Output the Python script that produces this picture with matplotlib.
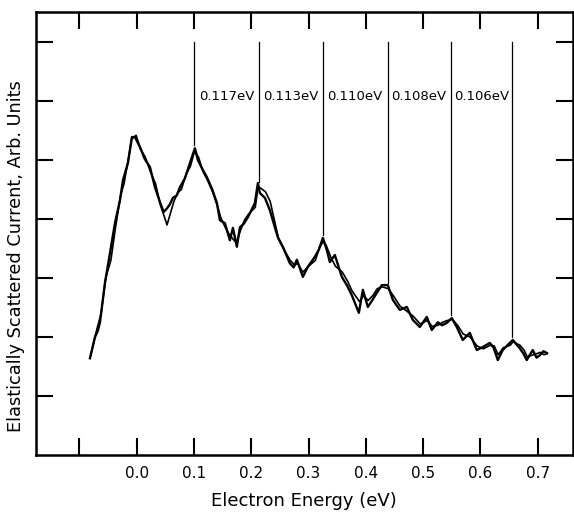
import matplotlib
matplotlib.use("Agg")
import matplotlib.pyplot as plt

# Trace A (electron energy in eV, scattered current in arb. units)
energy_a = [-0.0815, -0.0727, -0.068, -0.064, -0.0553, -0.0466, -0.0379, -0.0291, -0.0239,
            -0.0152, -0.0082, -0.003, 0.0058, 0.0140, 0.0232, 0.0319, 0.0406, 0.0470, 0.0529,
            0.0580, 0.0633, 0.0700, 0.0755, 0.0842, 0.093, 0.1017, 0.1069, 0.1140, 0.1226,
            0.1320, 0.1401, 0.1453, 0.154, 0.1627, 0.168, 0.1749, 0.1802, 0.1870, 0.1941,
            0.2063, 0.2116, 0.2151, 0.2238, 0.2325, 0.2412, 0.2465, 0.2552, 0.2674, 0.2740,
            0.2796, 0.2901, 0.2988, 0.3110, 0.3180, 0.3250, 0.332, 0.3372, 0.3459, 0.3581,
            0.3668, 0.3755, 0.3878, 0.3948, 0.4035, 0.4110, 0.4192, 0.4279, 0.4383, 0.4471,
            0.4593, 0.4715, 0.4820, 0.4942, 0.5064, 0.5151, 0.5256, 0.5330, 0.5413, 0.5500,
            0.5587, 0.5692, 0.5814, 0.5936, 0.6041, 0.6163, 0.6230, 0.6303, 0.6390, 0.6512,
            0.6565, 0.6686, 0.6750, 0.6808, 0.6913, 0.6980, 0.7035, 0.7100, 0.7157]
current_a = [1.64, 2.00, 2.10, 2.25, 2.92, 3.42, 3.93, 4.32, 4.66,
             4.95, 5.39, 5.39, 5.22, 5.02, 4.88, 4.54, 4.29, 4.12, 4.18,
             4.25, 4.36, 4.40, 4.54, 4.69, 4.95, 5.20, 5.00, 4.86, 4.71,
             4.50, 4.27, 3.98, 3.93, 3.64, 3.85, 3.53, 3.86, 3.92, 4.03,
             4.27, 4.61, 4.44, 4.36, 4.15, 3.86, 3.69, 3.53, 3.25, 3.18,
             3.31, 3.02, 3.19, 3.36, 3.48, 3.68, 3.47, 3.27, 3.39, 3.02,
             2.88, 2.71, 2.41, 2.80, 2.51, 2.62, 2.75, 2.88, 2.88, 2.63,
             2.46, 2.51, 2.29, 2.17, 2.34, 2.12, 2.25, 2.20, 2.24, 2.32,
             2.17, 1.95, 2.07, 1.78, 1.83, 1.90, 1.82, 1.61, 1.78, 1.90,
             1.95, 1.81, 1.72, 1.61, 1.78, 1.65, 1.69, 1.76, 1.73]

# Trace B (second sweep)
energy_b = [-0.0800, -0.0740, -0.0690, -0.0620, -0.0540, -0.0450, -0.0370, -0.0280, -0.0220,
            -0.0140, -0.0090, -0.0010, 0.0070, 0.0150, 0.0240, 0.0330, 0.0410, 0.0480, 0.0530,
            0.0590, 0.0650, 0.0720, 0.0780, 0.0860, 0.0940, 0.1010, 0.1080, 0.1160, 0.1240,
            0.1330, 0.1410, 0.1470, 0.1550, 0.1610, 0.1690, 0.1740, 0.1810, 0.1880, 0.1950,
            0.2070, 0.2120, 0.2170, 0.2250, 0.2330, 0.2400, 0.2480, 0.2560, 0.2680, 0.2760,
            0.2810, 0.2900, 0.3000, 0.3120, 0.3190, 0.3260, 0.3310, 0.3390, 0.3470, 0.3590,
            0.3680, 0.3760, 0.3890, 0.3960, 0.4040, 0.4120, 0.4200, 0.4290, 0.4390, 0.4480,
            0.4600, 0.4700, 0.4830, 0.4950, 0.5070, 0.5160, 0.5260, 0.5340, 0.5420, 0.5510,
            0.5600, 0.5700, 0.5820, 0.5940, 0.6050, 0.6170, 0.6240, 0.6310, 0.6400, 0.6520,
            0.6570, 0.6690, 0.6760, 0.6820, 0.6920, 0.6990, 0.7040, 0.7110, 0.7170]
current_b = [1.70, 1.95, 2.15, 2.40, 3.00, 3.30, 3.85, 4.40, 4.60,
             5.05, 5.35, 5.42, 5.18, 5.05, 4.80, 4.60, 4.25, 4.05, 3.90,
             4.10, 4.30, 4.45, 4.50, 4.75, 4.90, 5.15, 5.05, 4.80, 4.65,
             4.45, 4.22, 4.02, 3.85, 3.75, 3.65, 3.60, 3.80, 3.98, 4.08,
             4.20, 4.55, 4.52, 4.46, 4.30, 4.00, 3.65, 3.50, 3.30, 3.22,
             3.25, 3.10, 3.20, 3.30, 3.52, 3.62, 3.55, 3.35, 3.20, 3.10,
             2.95, 2.78, 2.60, 2.70, 2.62, 2.70, 2.82, 2.85, 2.82, 2.70,
             2.52, 2.45, 2.35, 2.22, 2.28, 2.18, 2.20, 2.25, 2.28, 2.30,
             2.20, 2.05, 2.00, 1.85, 1.80, 1.86, 1.85, 1.70, 1.82, 1.86,
             1.92, 1.86, 1.78, 1.66, 1.70, 1.72, 1.74, 1.70, 1.72]

# Vibrational level markers
marker_x = [0.100, 0.2135, 0.325, 0.438, 0.548, 0.655]
marker_bottom = [5.25, 4.63, 3.73, 2.92, 2.37, 2.00]
marker_top = 7.0
spacing_labels = ["0.117eV", "0.113eV", "0.110eV", "0.108eV", "0.106eV"]
label_y = 6.07

xtick_vals = [-0.1, 0.0, 0.1, 0.2, 0.3, 0.4, 0.5, 0.6, 0.7]
xtick_labels = ["", "0.0", "0.1", "0.2", "0.3", "0.4", "0.5", "0.6", "0.7"]
ytick_vals = [1, 2, 3, 4, 5, 6, 7]

fig = plt.figure(figsize=(5.74, 5.12), dpi=100)
ax = fig.add_axes([0.0627, 0.1113, 0.935, 0.8653])

ax.plot(energy_a, current_a, color="black", lw=1.7)
ax.plot(energy_b, current_b, color="black", lw=1.2)

for xm, yb in zip(marker_x, marker_bottom):
    ax.plot([xm, xm], [yb, marker_top], color="black", lw=0.9)

for i, lab in enumerate(spacing_labels):
    xc = (marker_x[i] + marker_x[i + 1]) / 2
    ax.text(xc, label_y, lab, ha="center", va="center", fontsize=9.5)

ax.set_xlim(-0.1757, 0.761)
ax.set_ylim(0, 7.51)
ax.set_xticks(xtick_vals)
ax.set_xticklabels(xtick_labels, fontsize=11)
ax.set_yticks(ytick_vals)
ax.set_yticklabels([])
ax.tick_params(axis="both", direction="in", length=12, width=1.5,
               top=True, right=True, pad=8)
for s in ax.spines.values():
    s.set_linewidth(1.8)

ax.set_xlabel("Electron Energy (eV)", fontsize=13, labelpad=8)
ax.set_ylabel("Elastically Scattered Current, Arb. Units", fontsize=12.8)
ax.yaxis.set_label_coords(-0.02, 0.45)

fig.savefig("out.png", dpi=100)
